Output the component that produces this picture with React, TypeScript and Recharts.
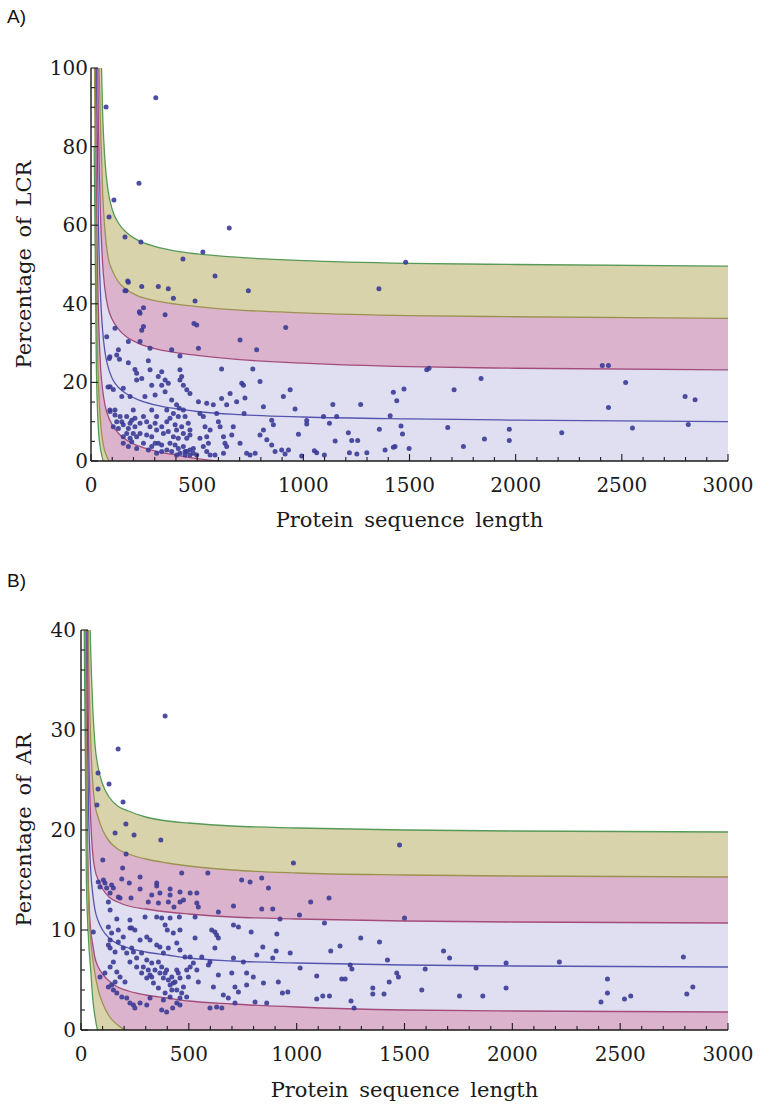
import { ComposedChart, Area, Line, Scatter, XAxis, YAxis } from 'recharts'

const SERIF = '"DejaVu Serif", serif'
const AXIS = '#1a1a1a'
const OLIVE_FILL = '#d8d3ab'
const PINK_FILL = '#dcb3cc'
const LAV_FILL = '#dfdff1'
const GREEN_LINE = '#569a56'
const OLIVE_LINE = '#9c9250'
const MAG_LINE = '#a34c7b'
const BLUE_LINE = '#5555b0'
const DOT = '#3b3b96'

// shared x grid for the band curves
const curveX = [15, 25, 35, 45, 55, 65, 80, 100, 130, 170, 220, 300, 400, 500, 700, 1000, 1500, 2000, 3000]

// A) LCR – curves from top (mean+3sd) to bottom (mean-3sd)
const lcrGreenUp = [300, 190, 140, 110, 88, 77, 69, 64, 60.5, 58, 56.2, 54.6, 53.4, 52.7, 51.8, 51.0, 50.3, 50.0, 49.6]
const lcrOliveUp = [250, 160, 110, 85, 68, 59, 52, 48.5, 45.5, 43.5, 42, 40.8, 39.9, 39.3, 38.4, 37.7, 37.0, 36.7, 36.3]
const lcrMagUp = [200, 130, 85, 62, 50, 44, 39, 36, 33.5, 31.5, 30, 28.6, 27.6, 26.9, 25.8, 24.9, 24.0, 23.6, 23.2]
const lcrMean = [170, 100, 60, 42, 33, 28, 24, 21, 18.7, 17, 15.6, 14.3, 13.3, 12.6, 11.8, 11.2, 10.7, 10.4, 10.0]
const lcrMagLow = [140, 70, 38, 24, 18, 14.5, 11.5, 9.2, 7.0, 5.2, 3.9, 2.6, 1.5, 0.6, -0.5, -1.3, -2.0, -2.4, -3.0]
const lcrOliveLow = [110, 45, 20, 10, 5, 2.5, 0.5, -1.5, -4, -6.3, -8.3, -10.3, -11.8, -12.8, -13.9, -14.7, -15.3, -15.6, -16]
const lcrGreenLow = [80, 25, 8, 3, 0.5, -2, -5, -8, -12, -15.5, -18.5, -21.5, -23.5, -25, -26.5, -27.5, -28.3, -28.7, -29]

// B) AR
const arGreenUp = [120, 70, 48, 38, 32, 28.5, 26.2, 24.6, 23.3, 22.4, 21.9, 21.3, 20.9, 20.7, 20.4, 20.2, 20.0, 19.9, 19.8]
const arOliveUp = [105, 60, 38, 29, 24.5, 22.5, 21.2, 20, 18.9, 18.1, 17.6, 17.1, 16.7, 16.4, 16.0, 15.7, 15.5, 15.4, 15.3]
const arMagUp = [90, 48, 29, 21, 17.5, 16, 15, 14.1, 13.3, 12.8, 12.4, 12.1, 11.8, 11.6, 11.3, 11.1, 10.9, 10.8, 10.7]
const arMean = [75, 38, 22, 16, 13.5, 12, 10.9, 10, 9.2, 8.6, 8.2, 7.8, 7.5, 7.2, 6.9, 6.7, 6.5, 6.4, 6.3]
const arMagLow = [60, 28, 14, 10, 8.5, 7.2, 6.3, 5.6, 4.9, 4.3, 3.9, 3.5, 3.2, 2.9, 2.6, 2.3, 2.0, 1.9, 1.8]
const arOliveLow = [55, 25, 13, 9, 7, 5.6, 4, 2.7, 1.4, 0.5, -0.2, -0.8, -1.2, -1.5, -1.9, -2.2, -2.4, -2.5, -2.6]
const arGreenLow = [40, 15, 9, 6, 3, 1.3, -0.3, -1.3, -2.3, -3.2, -4, -4.8, -5.4, -5.8, -6.2, -6.6, -6.9, -7.0, -7.2]

// proteins: [sequence length, percentage]
const lcrPoints: [number, number][] = [
  [71, 90.1], [305, 92.4], [226, 70.7], [651, 59.3], [108, 66.4], [85, 62.1], [160, 57.0], [235, 55.7], [527, 53.2], [433, 51.4],
  [165, 43.3], [176, 45.5], [89, 26.5], [80, 18.8], [89, 13.0], [1482, 50.6], [1356, 43.8],
  [584, 47.1], [741, 43.3], [173, 45.8], [239, 44.4], [317, 44.4], [364, 43.8], [388, 41.4], [490, 40.7], [160, 43.3], [247, 39.0],
  [228, 38.0], [231, 37.6], [349, 37.2], [485, 35.0], [498, 34.6], [247, 34.2], [239, 33.3], [113, 33.8], [917, 34.0], [74, 31.6],
  [231, 30.4], [278, 28.7], [380, 28.3], [506, 28.7], [702, 30.8], [780, 28.3], [129, 28.3], [176, 30.4], [86, 26.1], [134, 25.9],
  [121, 27.0], [270, 25.5], [419, 26.7], [615, 23.4], [762, 23.4], [176, 25.0], [207, 23.3], [215, 22.3], [239, 21.0], [278, 23.2],
  [317, 21.5], [333, 22.7], [349, 20.6], [419, 23.2], [427, 21.5], [419, 20.6], [435, 19.3], [451, 18.1], [466, 17.2], [215, 20.6],
  [286, 19.3], [333, 19.3], [364, 19.8], [90, 18.9], [105, 18.2], [145, 16.4], [152, 18.5], [184, 16.4], [254, 16.4], [302, 16.8],
  [349, 17.6], [380, 15.5], [403, 14.3], [416, 13.4], [435, 13.0], [411, 11.3], [388, 12.1], [357, 13.0], [372, 10.9], [443, 11.3],
  [458, 9.6], [427, 8.7], [403, 7.9], [435, 7.0], [466, 6.6], [388, 6.2], [372, 4.5], [396, 4.1], [411, 3.2], [435, 3.7],
  [466, 2.8], [451, 2.4], [482, 3.2], [364, 7.5], [341, 7.0], [309, 7.9], [317, 4.5], [333, 4.1], [278, 8.7], [262, 6.6],
  [247, 4.5], [231, 9.6], [207, 8.7], [192, 10.4], [168, 11.3], [199, 13.0], [247, 11.3], [286, 13.0], [309, 11.3], [506, 15.1],
  [545, 14.7], [576, 14.3], [615, 15.9], [639, 14.3], [655, 17.2], [710, 19.8], [718, 19.3], [725, 16.0], [686, 15.1], [721, 12.1],
  [796, 20.2], [812, 13.8], [851, 10.4], [859, 9.2], [906, 16.4], [513, 12.1], [537, 8.7], [545, 6.2], [553, 4.5], [529, 3.7],
  [561, 1.5], [584, 1.5], [600, 10.0], [608, 8.7], [624, 6.2], [631, 4.5], [639, 3.7], [624, 2.0], [670, 8.7], [663, 6.6],
  [702, 4.5], [733, 2.0], [749, 1.5], [773, 2.0], [796, 6.6], [812, 7.9], [828, 5.4], [851, 4.1], [867, 2.4], [898, 2.8],
  [914, 1.8], [137, 11.3], [145, 10.0], [152, 9.2], [113, 13.0], [90, 12.6], [129, 8.3], [168, 7.0], [184, 5.8], [192, 4.9],
  [152, 6.2], [215, 6.2], [286, 6.2], [302, 4.5], [357, 2.8], [380, 2.4], [419, 2.0], [443, 1.5], [466, 1.5], [498, 1.5],
  [309, 2.0], [333, 2.4], [403, 1.5], [443, 2.4], [482, 2.0], [411, 5.8], [451, 5.8], [466, 7.9], [396, 9.2], [357, 10.0],
  [333, 8.7], [302, 9.6], [262, 10.0], [207, 10.9], [184, 9.6], [231, 7.0], [199, 7.0], [176, 8.3], [113, 11.7], [121, 10.0],
  [105, 8.7], [152, 4.5], [176, 3.7], [215, 3.2], [270, 2.8], [286, 3.7], [545, 2.4], [513, 5.8], [561, 7.9], [592, 12.1],
  [529, 11.3],
  [1581, 23.2], [1592, 23.6], [1837, 21.0], [1710, 18.1], [938, 18.1], [961, 13.2], [1139, 14.4], [1270, 14.4], [1424, 17.5], [1474, 18.3],
  [1440, 15.3], [1409, 11.5], [1157, 11.3], [1095, 11.3], [1016, 10.3], [1016, 9.4], [1123, 9.6], [977, 6.8], [1212, 7.2], [1150, 5.1],
  [1228, 5.2], [1256, 5.2], [1358, 8.1], [1460, 8.9], [1467, 6.9], [1680, 8.5], [1754, 3.7], [1853, 5.6], [930, 2.8], [992, 1.3],
  [1052, 2.6], [1063, 2.1], [1099, 1.5], [1217, 2.1], [1252, 1.8], [1299, 2.1], [1385, 2.8], [1424, 3.5], [1432, 3.7], [1498, 3.2],
  [1970, 8.1], [1970, 5.2], [2217, 7.2], [2408, 24.3], [2437, 24.3], [2518, 20.0], [2437, 13.6], [2550, 8.4], [2798, 16.4], [2845, 15.6],
  [2813, 9.3],
]

const arPoints: [number, number][] = [
  [390, 31.4], [172, 28.1], [79, 25.7], [79, 24.1], [74, 22.5], [130, 24.6], [195, 22.8], [208, 20.6], [985, 16.7], [1477, 18.5],
  [158, 19.7], [246, 19.5], [370, 19.0], [209, 17.6], [101, 17.0], [193, 16.2], [189, 15.1], [274, 15.3], [224, 14.7], [351, 14.7],
  [351, 14.4], [274, 14.1], [328, 13.5], [366, 13.7], [413, 14.1], [459, 13.8], [475, 13.0], [506, 13.7], [537, 13.7], [537, 12.7],
  [467, 15.7], [588, 15.7], [413, 13.5], [359, 12.7], [405, 12.8], [459, 12.8], [431, 12.3], [312, 12.8], [232, 13.2], [544, 12.3],
  [637, 11.8], [707, 12.4], [745, 15.0], [784, 14.8], [838, 15.2], [869, 14.2], [838, 12.1], [889, 12.1], [104, 15.0], [80, 14.8],
  [111, 14.7], [119, 14.2], [142, 14.5], [150, 14.2], [135, 13.7], [173, 13.3], [181, 13.2], [88, 14.3], [127, 12.8], [135, 12.0],
  [127, 10.3], [166, 11.1], [227, 11.0], [227, 10.2], [250, 10.0], [235, 10.2], [297, 11.3], [351, 11.3], [374, 11.2], [413, 11.2],
  [456, 11.3], [390, 10.5], [400, 10.0], [428, 9.7], [459, 10.0], [529, 11.3], [529, 9.2], [606, 10.0], [621, 9.8], [629, 9.5],
  [637, 9.2], [621, 8.2], [707, 10.5], [730, 10.3], [789, 9.8], [305, 9.3], [320, 9.0], [274, 9.0], [444, 8.7], [351, 8.5],
  [366, 8.3], [135, 9.0], [127, 8.5], [135, 8.2], [158, 7.8], [173, 8.8], [196, 8.2], [212, 7.7], [235, 8.2], [243, 7.8],
  [227, 6.8], [258, 6.3], [289, 6.3], [312, 6.0], [320, 5.5], [328, 5.3], [359, 6.8], [374, 6.3], [390, 5.7], [405, 5.0],
  [413, 4.5], [421, 4.0], [428, 4.7], [444, 6.0], [451, 5.7], [459, 5.2], [475, 4.3], [490, 6.0], [498, 5.3], [506, 7.3],
  [521, 6.7], [544, 4.8], [490, 3.3], [459, 3.2], [444, 2.7], [459, 2.5], [397, 1.8], [425, 2.2], [382, 3.0], [591, 6.5],
  [598, 6.8], [637, 5.5], [614, 4.3], [660, 3.5], [683, 3.2], [699, 5.7], [714, 4.3], [730, 3.8], [753, 6.8], [768, 5.7],
  [768, 4.5], [799, 5.3], [846, 4.7], [807, 2.8], [861, 2.7], [843, 8.3], [815, 7.5], [889, 7.2], [707, 7.2], [629, 2.3],
  [653, 2.2], [598, 2.2], [714, 2.7], [88, 5.3], [111, 5.7], [135, 6.3], [142, 4.5], [150, 4.0], [166, 3.7], [158, 4.8],
  [127, 4.3], [189, 3.3], [212, 3.2], [227, 2.7], [243, 2.5], [250, 2.2], [274, 2.7], [305, 2.5], [320, 3.2], [374, 2.0],
  [57, 9.8],
  [328, 6.7], [343, 6.0], [366, 5.7], [382, 5.2], [397, 6.0], [421, 5.3], [436, 4.8], [444, 4.0], [467, 3.7], [413, 3.3],
  [390, 3.7], [359, 4.2], [336, 4.7], [305, 5.2], [281, 5.7], [258, 7.2], [281, 7.7], [305, 7.0], [382, 7.7], [405, 8.2],
  [459, 8.0], [482, 7.3], [506, 6.3], [537, 6.0], [560, 7.3], [181, 5.3], [204, 4.8], [166, 5.8], [150, 6.8], [142, 9.7],
  [173, 10.0], [196, 9.3],
  [1065, 12.8], [1150, 13.2], [1013, 11.5], [923, 11.1], [1129, 10.7], [1500, 11.2], [908, 9.6], [1297, 9.2], [1384, 8.8], [1201, 8.4],
  [1158, 7.9], [970, 7.7], [905, 7.9], [1421, 7.0], [1681, 7.9], [1709, 7.2], [1016, 6.2], [1248, 6.5], [1256, 6.1], [1596, 6.1],
  [1093, 5.4], [1464, 5.7], [1472, 5.3], [1209, 5.1], [1225, 5.1], [915, 4.8], [1429, 4.8], [1353, 4.2], [1580, 4.0], [934, 3.7],
  [959, 3.8], [1353, 3.6], [1405, 3.6], [1121, 3.4], [1152, 3.4], [1755, 3.4], [1093, 3.1], [1252, 2.9], [1266, 2.2],
  [1832, 6.2], [1863, 3.4], [1971, 6.7], [1971, 4.2], [2218, 6.8], [2441, 5.1], [2441, 3.7], [2411, 2.8], [2520, 3.1], [2549, 3.4],
  [2793, 7.3], [2809, 3.6], [2837, 4.3],
]

const xMajorTicks = [0, 500, 1000, 1500, 2000, 2500, 3000]
const lcrMajorTicks = [0, 20, 40, 60, 80, 100]
const arMajorTicks = [0, 10, 20, 30, 40]

const minorTicks = (max: number, step: number) => {
  const out: number[] = []
  for (let v = 0; v <= max + 1e-9; v += step) out.push(Math.round(v * 100) / 100)
  return out
}

const buildRows = (curves: number[][]) =>
  curveX.map((x, i) => ({
    x,
    g1: curves[0][i], o1: curves[1][i], m1: curves[2][i], mean: curves[3][i],
    m2: curves[4][i], o2: curves[5][i], g2: curves[6][i],
  }))

const rowsA = buildRows([lcrGreenUp, lcrOliveUp, lcrMagUp, lcrMean, lcrMagLow, lcrOliveLow, lcrGreenLow])
const rowsB = buildRows([arGreenUp, arOliveUp, arMagUp, arMean, arMagLow, arOliveLow, arGreenLow])
const ptsA = lcrPoints.map(([x, y]) => ({ x, y }))
const ptsB = arPoints.map(([x, y]) => ({ x, y }))

function xTick(side: 'bottom' | 'top', majors: number[]) {
  return (p: any) => {
    const v = p.payload.value
    const isMajor = majors.includes(v)
    const len = isMajor ? 7 : 4
    const d = side === 'bottom' ? -1 : 1
    return (
      <g>
        <line x1={p.x} x2={p.x} y1={p.y} y2={p.y + d * len} stroke={AXIS} strokeWidth={1.1} />
        {side === 'bottom' && isMajor && (
          <text x={p.x} y={p.y + 31} textAnchor="middle" fontFamily={SERIF} fontSize={20} fill={AXIS}>{v}</text>
        )}
      </g>
    )
  }
}

function yTick(side: 'left' | 'right', majors: number[], gap: number) {
  return (p: any) => {
    const v = p.payload.value
    const isMajor = majors.includes(v)
    const len = isMajor ? 7 : 4
    const d = side === 'left' ? 1 : -1
    return (
      <g>
        <line x1={p.x} x2={p.x + d * len} y1={p.y} y2={p.y} stroke={AXIS} strokeWidth={1.1} />
        {side === 'left' && isMajor && (
          <text x={p.x - gap} y={p.y + 7} textAnchor="end" fontFamily={SERIF} fontSize={20} fill={AXIS}>{v}</text>
        )}
      </g>
    )
  }
}

const dot = (p: any) => <circle cx={p.cx} cy={p.cy} r={2.5} fill={DOT} fillOpacity={0.9} />

function BandChart(props: {
  rows: any[]; points: { x: number; y: number }[]; height: number; top: number; left: number; bottom: number;
  yMax: number; yMinor: number; yMajors: number[]; yLabel: string; yGap: number
}) {
  const { rows, points, height, top, left, bottom, yMax, yMinor, yMajors, yLabel, yGap } = props
  const xt = minorTicks(3000, 100)
  const yt = minorTicks(yMax, yMinor)
  const band = (lo: string, hi: string, fill: string) => (
    <Area dataKey={(d: any) => [d[lo], d[hi]]} type="monotone" stroke="none" fill={fill} fillOpacity={1}
      isAnimationActive={false} dot={false} activeDot={false} />
  )
  const curve = (key: string, color: string) => (
    <Line dataKey={key} type="monotone" stroke={color} strokeWidth={1.3} dot={false} activeDot={false} isAnimationActive={false} />
  )
  return (
    <ComposedChart width={760} height={height} data={rows} margin={{ top, right: 32, bottom: 0, left: 0 }}>
      <XAxis dataKey="x" type="number" domain={[0, 3000]} ticks={xt} interval={0} allowDataOverflow
        height={bottom} tickSize={0} tickMargin={0}
        tick={xTick('bottom', xMajorTicks)} axisLine={{ stroke: AXIS, strokeWidth: 1.4 }}
        label={{ value: 'Protein sequence length', position: 'insideBottom', offset: 13,
          style: { fontFamily: SERIF, fontSize: 21, fill: AXIS, wordSpacing: 4 } }} />
      <XAxis xAxisId="top" orientation="top" dataKey="x" type="number" domain={[0, 3000]} ticks={xt} interval={0}
        allowDataOverflow height={0} tickSize={0} tickMargin={0} tick={xTick('top', xMajorTicks)}
        axisLine={{ stroke: AXIS, strokeWidth: 1.4 }} />
      <YAxis type="number" domain={[0, yMax]} ticks={yt} interval={0} allowDataOverflow width={left}
        tickSize={0} tickMargin={0} tick={yTick('left', yMajors, yGap)} axisLine={{ stroke: AXIS, strokeWidth: 1.4 }}
        label={{ value: yLabel, angle: -90, position: 'insideLeft', offset: 24,
          style: { textAnchor: 'middle', fontFamily: SERIF, fontSize: 21, fill: AXIS, wordSpacing: 4 } }} />
      <YAxis yAxisId="right" orientation="right" type="number" domain={[0, yMax]} ticks={yt} interval={0}
        allowDataOverflow width={0} tickSize={0} tickMargin={0} tick={yTick('right', yMajors, yGap)}
        axisLine={{ stroke: AXIS, strokeWidth: 1.4 }} />
      {band('o1', 'g1', OLIVE_FILL)}
      {band('m1', 'o1', PINK_FILL)}
      {band('m2', 'm1', LAV_FILL)}
      {band('o2', 'm2', PINK_FILL)}
      {band('g2', 'o2', OLIVE_FILL)}
      {curve('g1', GREEN_LINE)}
      {curve('o1', OLIVE_LINE)}
      {curve('m1', MAG_LINE)}
      {curve('mean', BLUE_LINE)}
      {curve('m2', MAG_LINE)}
      {curve('o2', OLIVE_LINE)}
      {curve('g2', GREEN_LINE)}
      <Scatter data={points} dataKey="y" shape={dot} isAnimationActive={false} />
    </ComposedChart>
  )
}

const panelTag = { position: 'absolute' as const, left: 7, fontFamily: '"Liberation Sans", Arial, sans-serif', fontSize: 19, lineHeight: '19px', color: '#111' }

export default function App() {
  return (
    <div style={{ position: 'absolute', left: 0, top: 0, width: 760, height: 1110, background: '#fff' }}>
      <div style={{ ...panelTag, top: 7 }}>A)</div>
      <div style={{ ...panelTag, top: 571 }}>B)</div>
      <div style={{ position: 'absolute', left: 0, top: 0 }}>
        <BandChart rows={rowsA} points={ptsA} height={540} top={68} left={91} bottom={79} yMax={100} yMinor={5}
          yMajors={lcrMajorTicks} yLabel="Percentage of LCR" yGap={3} />
      </div>
      <div style={{ position: 'absolute', left: 0, top: 540 }}>
        <BandChart rows={rowsB} points={ptsB} height={570} top={90} left={81} bottom={80} yMax={40} yMinor={2}
          yMajors={arMajorTicks} yLabel="Percentage of AR" yGap={5} />
      </div>
    </div>
  )
}
